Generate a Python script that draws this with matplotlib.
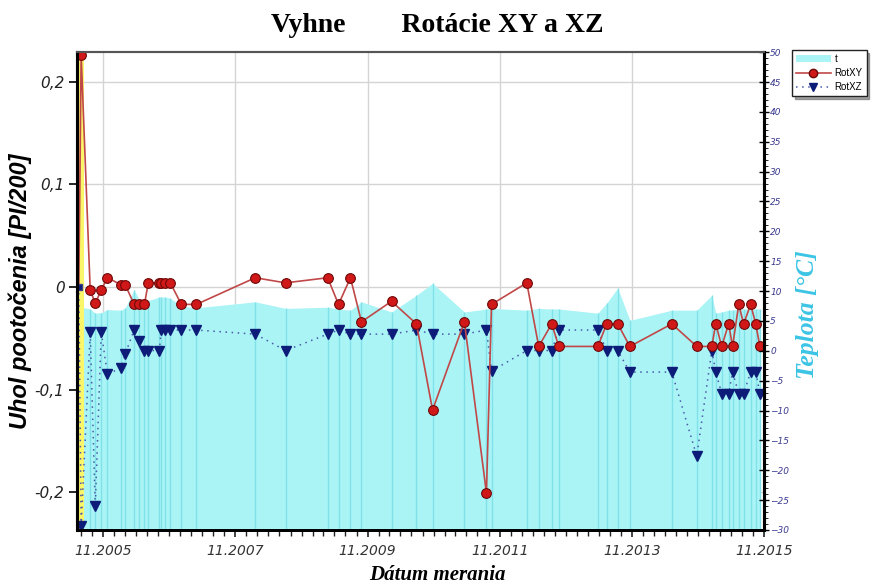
import pandas as pd
import matplotlib
matplotlib.use("Agg")
import matplotlib.pyplot as plt
import matplotlib.dates as mdates
from matplotlib.lines import Line2D
from matplotlib.patches import Patch
from matplotlib.ticker import FuncFormatter, MultipleLocator, FixedLocator

# measurement dates (first one is the zero reading)
DATES = [
    "2005-06-18", "2005-07-01", "2005-08-20", "2005-09-17", "2005-10-20", "2005-11-23",
    "2006-02-08", "2006-03-02", "2006-04-20", "2006-05-18", "2006-06-16", "2006-07-07",
    "2006-09-06", "2006-09-17", "2006-10-09", "2006-11-06", "2007-01-06", "2007-03-30",
    "2008-02-19", "2008-08-04", "2009-03-25", "2009-05-24", "2009-07-29", "2009-09-28",
    "2010-03-13", "2010-07-29", "2010-10-26", "2011-04-20", "2011-08-20", "2011-09-17",
    "2012-03-30", "2012-06-04", "2012-08-15", "2012-09-23", "2013-04-27", "2013-06-15",
    "2013-08-15", "2013-10-21", "2014-06-10", "2014-10-26", "2015-01-17", "2015-02-08",
    "2015-03-13", "2015-04-20", "2015-05-12", "2015-06-15", "2015-07-12", "2015-08-20",
    "2015-09-17", "2015-10-10",
]
ROT_XY = [
    0.0, 0.226, -0.003, -0.016, -0.003, 0.009,
    0.002, 0.002, -0.017, -0.017, -0.017, 0.004,
    0.004, 0.004, 0.004, 0.004, -0.017, -0.017,
    0.009, 0.004, 0.009, -0.017, 0.009, -0.034,
    -0.014, -0.036, -0.120, -0.034, -0.201, -0.017,
    0.004, -0.058, -0.036, -0.058, -0.058, -0.036,
    -0.036, -0.058, -0.036, -0.058, -0.058, -0.036,
    -0.058, -0.036, -0.058, -0.017, -0.036, -0.017,
    -0.036, -0.058,
]
ROT_XZ = [
    0.0, -0.233, -0.044, -0.214, -0.044, -0.085,
    -0.079, -0.065, -0.042, -0.053, -0.062, -0.062,
    -0.062, -0.042, -0.042, -0.042, -0.042, -0.042,
    -0.046, -0.062, -0.046, -0.042, -0.046, -0.046,
    -0.046, -0.042, -0.046, -0.046, -0.042, -0.082,
    -0.062, -0.062, -0.062, -0.042, -0.042, -0.062,
    -0.062, -0.083, -0.083, -0.165, -0.062, -0.083,
    -0.104, -0.104, -0.083, -0.104, -0.104, -0.083,
    -0.083, -0.104,
]
TEMP = [
    7.3, 7.3, 7.0, 6.3, 6.4, 6.9,
    6.8, 7.2, 10.2, 8.5, 8.2, 8.4,
    9.0, 9.0, 9.0, 8.8, 7.5, 7.2,
    8.2, 7.1, 7.3, 7.0, 6.8, 8.2,
    6.5, 9.3, 11.3, 6.5, 7.0, 7.1,
    6.8, 7.1, 7.0, 7.0, 6.3, 8.0,
    10.5, 5.1, 6.8, 6.8, 9.3, 6.3,
    6.5, 6.8, 6.8, 7.0, 7.0, 7.0,
    7.0, 7.0,
]
LEFT_TICKS = [-0.2, -0.1, 0.0, 0.1, 0.2]
XTICK_YEARS = [2005, 2007, 2009, 2011, 2013, 2015]

dates = pd.to_datetime(DATES)

fig = plt.figure(figsize=(8.75, 5.86), dpi=100)
ax = fig.add_axes([0.088, 0.0956, 0.785, 0.8154])
ax2 = ax.twinx()

ax.set_xlim(pd.Timestamp("2005-06-08"), pd.Timestamp("2015-11-01"))
ax.set_ylim(-0.237, 0.229)
ax2.set_ylim(-30, 50)

# grid below the temperature area
ax.set_axisbelow(True)
ax.grid(True, color="#d4d4d4", lw=1.0)

# temperature area on the right scale
cyan = "#aaf4f6"
ax.fill_between(dates, TEMP, -30, transform=ax2.transData,
                color=cyan, lw=0, zorder=0.8)
ax.vlines(dates, -30, TEMP, transform=ax2.transData,
          colors="#80e2e8", lw=1.0, zorder=0.85)
# highlighted first reading
ax.axvspan(dates[0] - pd.Timedelta(days=6), dates[1] + pd.Timedelta(days=14),
           color="#fbf56a", lw=0, zorder=0.9)

n = len(dates)
ax.plot(dates, ROT_XZ, ls=(0, (1, 3)), color="#4a5aa8", lw=1.1,
        marker="v", ms=7, mfc="#0c1c78", mec="#0c1c78",
        markevery=list(range(1, n)), zorder=3)
ax.plot(dates, ROT_XY, ls="-", color="#c04848", lw=1.2,
        marker="o", ms=7, mfc="#d01818", mec="#6e0808", mew=0.8,
        markevery=list(range(1, n)), zorder=4)
ax.plot(dates[:1], ROT_XZ[:1], ls="none", marker="s", ms=5,
        mfc="#0c1c78", mec="#40408a", zorder=5)

# x axis
ax.xaxis.set_major_locator(FixedLocator(
    mdates.date2num([pd.Timestamp(f"{y}-11-01") for y in XTICK_YEARS])))
ax.xaxis.set_major_formatter(mdates.DateFormatter("%m.%Y"))
ax.xaxis.set_minor_locator(mdates.MonthLocator(bymonth=[1, 3, 5, 7, 9, 11]))
ax.tick_params(axis="x", which="major", length=5, width=1.2, color="#222222",
               labelsize=10, labelcolor="#333333", pad=5)
ax.tick_params(axis="x", which="minor", length=4, width=1.0, color="#222222")
for lab in ax.get_xticklabels():
    lab.set_fontstyle("italic")

# left axis
ax.yaxis.set_major_locator(FixedLocator(LEFT_TICKS))
ax.yaxis.set_major_formatter(FuncFormatter(
    lambda v, p: "0" if abs(v) < 1e-9 else f"{v:.1f}".replace(".", ",")))
ax.tick_params(axis="y", which="major", length=6, width=1.2, labelsize=11,
               labelcolor="#222222", pad=3)
for lab in ax.get_yticklabels():
    lab.set_fontstyle("italic")

# right axis
ax2.yaxis.set_major_locator(MultipleLocator(5))
ax2.yaxis.set_minor_locator(MultipleLocator(1))
ax2.tick_params(axis="y", which="major", direction="inout", length=7, width=1.0,
                labelsize=6.5, labelcolor="#3a3a90", pad=1)
ax2.tick_params(axis="y", which="minor", direction="out", length=3, width=0.6)
for lab in ax2.get_yticklabels():
    lab.set_fontstyle("italic")

for a in (ax, ax2):
    a.spines["top"].set_color("#555555")
    a.spines["top"].set_linewidth(1.5)
    a.spines["left"].set_linewidth(2.2)
    a.spines["bottom"].set_linewidth(2.0)
    a.spines["right"].set_linewidth(2.2)

ax.set_ylabel("Uhol pootočenia [PI/200]", family="Liberation Sans",
              fontsize=17, fontweight="bold", fontstyle="italic")
ax.yaxis.set_label_coords(-0.065, 0.5)
ax.set_xlabel("Dátum merania", family="Liberation Serif", fontsize=15,
              fontweight="bold", fontstyle="italic")
ax.xaxis.set_label_coords(0.524, -0.073)
ax2.set_ylabel("Teplota [°C]", family="Liberation Serif", fontsize=18.5,
               fontweight="bold", fontstyle="italic", color="#3cc4e4")
ax2.yaxis.set_label_coords(1.047, 0.45)

fig.text(0.5, 0.957, "Vyhne        Rotácie XY a XZ", ha="center", va="center",
         family="Liberation Serif", fontsize=20, fontweight="bold")

handles = [
    Patch(facecolor=cyan, edgecolor="none"),
    Line2D([], [], color="#c04848", lw=1.2, marker="o", ms=6,
           mfc="#d01818", mec="#6e0808"),
    Line2D([], [], color="#4a5aa8", lw=1.1, ls=(0, (1, 3)), marker="v", ms=6,
           mfc="#0c1c78", mec="#0c1c78"),
]
leg = fig.legend(handles, ["t", "RotXY", "RotXZ"], loc="upper left",
                 bbox_to_anchor=(0.905, 0.915), prop={"family": "Liberation Sans", "size": 7},
                 frameon=True, fancybox=False, shadow=True, handlelength=3.6,
                 borderpad=0.4, labelspacing=0.45, handletextpad=0.4,
                 borderaxespad=0.0)
leg.get_frame().set_edgecolor("#222222")
leg.get_frame().set_linewidth(1.0)

fig.savefig("out.png", dpi=100)
